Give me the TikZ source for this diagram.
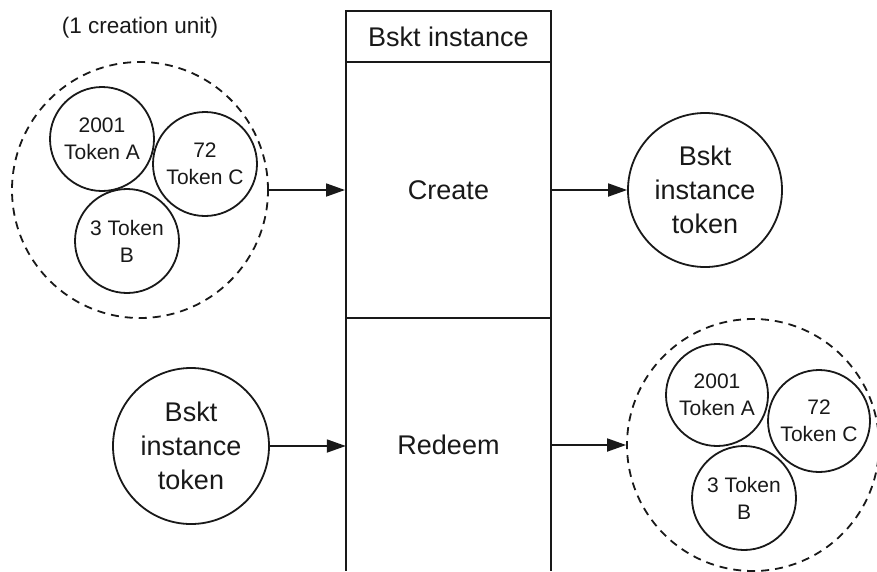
\documentclass[tikz,border=0pt]{standalone}
\usepackage{fontspec}
\setmainfont{Liberation Sans}
\usetikzlibrary{arrows.meta}
\definecolor{ink}{RGB}{25,25,25}
\begin{document}
\begin{tikzpicture}[x=1pt,y=-1pt,
  every node/.style={text=ink},
  big/.style={font=\fontsize{27}{34}\selectfont, align=center},
  small/.style={font=\fontsize{21}{27}\selectfont, align=center},
  tokcircle/.style={draw=ink, line width=1.8pt, circle, minimum size=#1, inner sep=0pt},
  unitcircle/.style={draw=ink, line width=1.8pt, circle, dash pattern=on 8pt off 6pt, minimum size=#1, inner sep=0pt},
  section/.style={minimum width=205pt, inner sep=0pt, big},
  arr/.style={draw=ink, line width=1.8pt, -{Triangle[length=19pt,width=13pt]}},
  boxline/.style={draw=ink, line width=2pt}
]
\useasboundingbox (0,0) rectangle (877,571);
\fill[white] (0,0) rectangle (877,571);

% central box
\node[section, boxline, minimum height=51pt] (header) at (448.5,36.5) {Bskt instance};
\node[section, boxline, minimum height=256pt] (create) at (448.5,190) {Create};
\node[section, minimum height=253pt] (redeem) at (448.5,444.5) {Redeem};
\draw[boxline] (redeem.north west) -- (redeem.south west);
\draw[boxline] (redeem.north east) -- (redeem.south east);

% left creation unit
\node[font=\fontsize{22.5}{27}\selectfont] (label) at (140,28) {(1 creation unit)};
\node[unitcircle=256pt] (unit1) at (140,190) {};
\node[tokcircle=104pt, small] (a1) at (102,139) {2001\\Token A};
\node[tokcircle=104pt, small] (c1) at (205,164) {72\\Token C};
\node[tokcircle=104pt, small] (b1) at (127,241) {3 Token\\B};

% right token (create output)
\node[tokcircle=154pt, big] (tok1) at (705,190) {Bskt\\instance\\token};

% left token (redeem input)
\node[tokcircle=156pt, big] (tok2) at (191,446) {Bskt\\instance\\token};

% right creation unit (redeem output)
\node[unitcircle=252pt] (unit2) at (753,445) {};
\node[tokcircle=102pt, small] (a2) at (717,395) {2001\\Token A};
\node[tokcircle=102pt, small] (c2) at (819,421) {72\\Token C};
\node[tokcircle=104pt, small] (b2) at (744,498) {3 Token\\B};

% connectors
\draw[arr] (unit1.east) -- (create.west);
\draw[arr] (create.east) -- (tok1.west);
\draw[arr] (tok2.east) -- (tok2.east -| redeem.west);
\draw[arr] (unit2.west -| redeem.east) -- (unit2.west);
\end{tikzpicture}
\end{document}
